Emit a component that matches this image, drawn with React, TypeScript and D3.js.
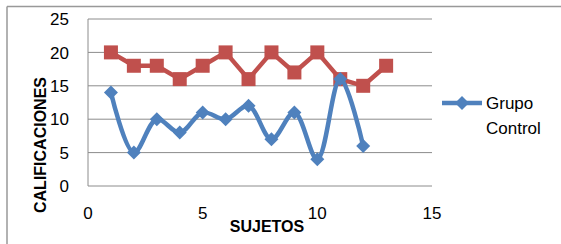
import * as d3 from 'd3';

const sujetosControl = [1, 2, 3, 4, 5, 6, 7, 8, 9, 10, 11, 12];
const notasControl = [14, 5, 10, 8, 11, 10, 12, 7, 11, 4, 16, 6];
const sujetosExp = [1, 2, 3, 4, 5, 6, 7, 8, 9, 10, 11, 12, 13];
const notasExp = [20, 18, 18, 16, 18, 20, 16, 20, 17, 20, 16, 15, 18];
const xTicks = [0, 5, 10, 15];
const yTicks = [0, 5, 10, 15, 20, 25];

const W = 561;
const H = 244;
const plot = { left: 88, right: 432, top: 19, bottom: 186 };
const font = "'Liberation Sans', Arial, sans-serif";
const blue = '#4f81bd';
const red = '#c0504d';

export default function App() {
  const x = d3.scaleLinear().domain([0, 15]).range([plot.left, plot.right]);
  const y = d3.scaleLinear().domain([0, 25]).range([plot.bottom, plot.top]);

  const control = sujetosControl.map((s, i) => [s, notasControl[i]] as [number, number]);
  const exp = sujetosExp.map((s, i) => [s, notasExp[i]] as [number, number]);

  // Excel "smoothed line" ~ catmull-rom
  const smooth = d3.line<[number, number]>()
    .x(d => x(d[0]))
    .y(d => y(d[1]))
    .curve(d3.curveCatmullRom.alpha(0.5));
  const straight = d3.line<[number, number]>()
    .x(d => x(d[0]))
    .y(d => y(d[1]));

  const diamond = (cx: number, cy: number, r: number) =>
    `M${cx},${cy - r}L${cx + r},${cy}L${cx},${cy + r}L${cx - r},${cy}Z`;

  return (
    <svg width={W} height={H} style={{ position: 'absolute', left: 0, top: 0, background: '#fff' }}>
      {/* chart frame (cropped on right/bottom) */}
      <line x1={7} x2={W} y1={6.5} y2={6.5} stroke="#999" strokeWidth={1.5} />
      <line x1={7} x2={7} y1={6.5} y2={H} stroke="#999" strokeWidth={1.5} />

      {/* gridlines */}
      {yTicks.map(t => (
        <line key={t} x1={plot.left} x2={plot.right} y1={y(t)} y2={y(t)} stroke="#8c8c8c" strokeWidth={1} />
      ))}
      <line x1={plot.left} x2={plot.left} y1={plot.top} y2={plot.bottom} stroke="#8c8c8c" strokeWidth={1} />

      {/* y tick labels */}
      {yTicks.map(t => (
        <text key={t} x={69} y={y(t)} dy="0.36em" textAnchor="end" fontFamily={font} fontSize={17} fill="#000">
          {t}
        </text>
      ))}
      {/* x tick labels */}
      {xTicks.map(t => (
        <text key={t} x={x(t)} y={212.5} dy="0.36em" textAnchor="middle" fontFamily={font} fontSize={17} fill="#000">
          {t}
        </text>
      ))}

      {/* axis titles */}
      <text x={267} y={232} textAnchor="middle" fontFamily={font} fontSize={16} fontWeight="bold">SUJETOS</text>
      <text transform={`translate(46,145) rotate(-90)`} textAnchor="middle" fontFamily={font} fontSize={16} fontWeight="bold">
        CALIFICACIONES
      </text>

      {/* experimental series (no legend entry) */}
      <path d={straight(exp) ?? ''} fill="none" stroke={red} strokeWidth={4.5} strokeLinejoin="round" />
      {exp.map(d => (
        <rect key={d[0]} x={x(d[0]) - 7} y={y(d[1]) - 7} width={14} height={14} fill={red} />
      ))}

      {/* control series */}
      <path d={smooth(control) ?? ''} fill="none" stroke={blue} strokeWidth={4.5} strokeLinejoin="round" />
      {control.map(d => (
        <path key={d[0]} d={diamond(x(d[0]), y(d[1]), 7)} fill={blue} />
      ))}

      {/* legend */}
      <line x1={442} x2={482} y1={103} y2={103} stroke={blue} strokeWidth={4.5} />
      <path d={diamond(462, 103, 7)} fill={blue} />
      <text x={486} y={103} dy="0.36em" fontFamily={font} fontSize={17}>Grupo</text>
      <text x={486} y={128} dy="0.36em" fontFamily={font} fontSize={17}>Control</text>
    </svg>
  );
}
